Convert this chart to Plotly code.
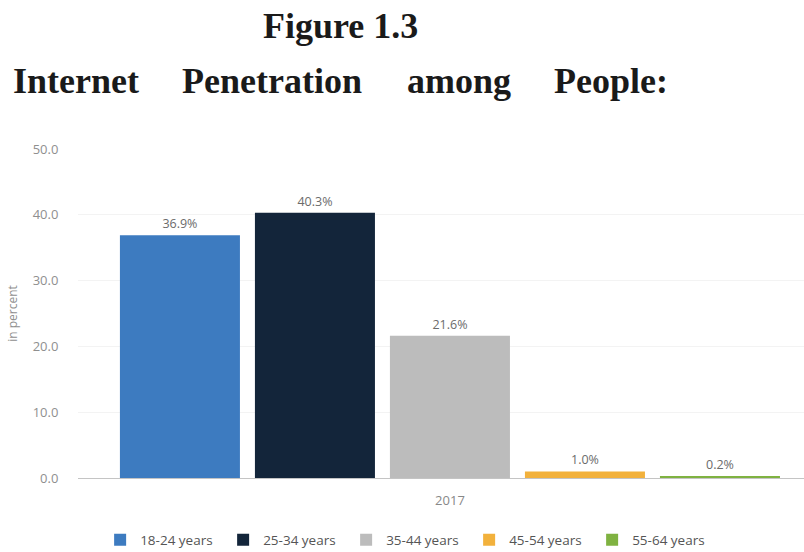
import plotly.graph_objects as go

# --- data ---------------------------------------------------------------
year = ["2017"]
age_groups = ["18-24 years", "25-34 years", "35-44 years", "45-54 years", "55-64 years"]
share_pct = [36.9, 40.3, 21.6, 1.0, 0.2]
bar_colors = ["#3d7bc0", "#13253a", "#bcbcbc", "#f2b13c", "#7fb241"]

title_top = "Figure 1.3"
title_words = ["Internet", "Penetration", "among", "People:"]

# --- page geometry (pixels) ---------------------------------------------
W, H = 804, 552
ML, MR, MT, MB = 78, 0, 149, 74
PW, PH = W - ML - MR, H - MT - MB


def px_x(px):
    return (px - ML) / PW


def px_y(py):
    return (H - MB - py) / PH


fig = go.Figure()
for name, val, col in zip(age_groups, share_pct, bar_colors):
    fig.add_trace(go.Bar(
        x=year, y=[val], name=name,
        marker=dict(color=col, line=dict(width=0)),
        text=[f"{val:.1f}%"], textposition="outside",
        textfont=dict(family="Open Sans", size=12.5, color="#6b6b6b"),
        cliponaxis=False,
    ))

annotations = [dict(
    text=f"<b>{title_top}</b>", xref="paper", yref="paper",
    x=px_x(261), y=px_y(26), xanchor="left", yanchor="middle",
    showarrow=False, font=dict(family="Liberation Serif", size=36, color="#1a1a1a"),
)]
word_left = [11, 180, 405, 552]
for w, lx in zip(title_words, word_left):
    annotations.append(dict(
        text=f"<b>{w}</b>", xref="paper", yref="paper",
        x=px_x(lx), y=px_y(81), xanchor="left", yanchor="middle",
        showarrow=False, font=dict(family="Liberation Serif", size=36, color="#1a1a1a"),
    ))

fig.update_layout(
    width=W, height=H,
    margin=dict(l=ML, r=MR, t=MT, b=MB, pad=0),
    paper_bgcolor="white", plot_bgcolor="white",
    barmode="group", bargap=0.0, bargroupgap=0.111,
    showlegend=True,
    legend=dict(
        orientation="h", xref="container", yref="container",
        x=0.507, y=1 - 540 / H, xanchor="center", yanchor="middle",
        font=dict(family="Open Sans", size=13.5, color="#555555"),
        itemwidth=30, entrywidth=78, entrywidthmode="pixels",
        traceorder="normal",
    ),
    annotations=annotations,
)

fig.update_xaxes(
    type="category", range=[-0.551, 0.5245],
    showline=True, linecolor="#c4c4c4", linewidth=1,
    showgrid=False, ticks="outside", ticklen=10, tickcolor="rgba(0,0,0,0)",
    tickfont=dict(family="Open Sans", size=13, color="#888888"),
    fixedrange=True,
)
fig.update_yaxes(
    range=[0, 50], dtick=10, tickformat=".1f",
    showgrid=True, gridcolor="#f3f3f3", gridwidth=1, zeroline=False,
    ticks="outside", ticklen=16, tickcolor="rgba(0,0,0,0)",
    tickfont=dict(family="Open Sans", size=13, color="#8f8f8f"),
    title=dict(text="in percent", standoff=12,
               font=dict(family="Open Sans", size=12, color="#8f8f8f")),
    fixedrange=True,
)

fig.write_html("out.html")
